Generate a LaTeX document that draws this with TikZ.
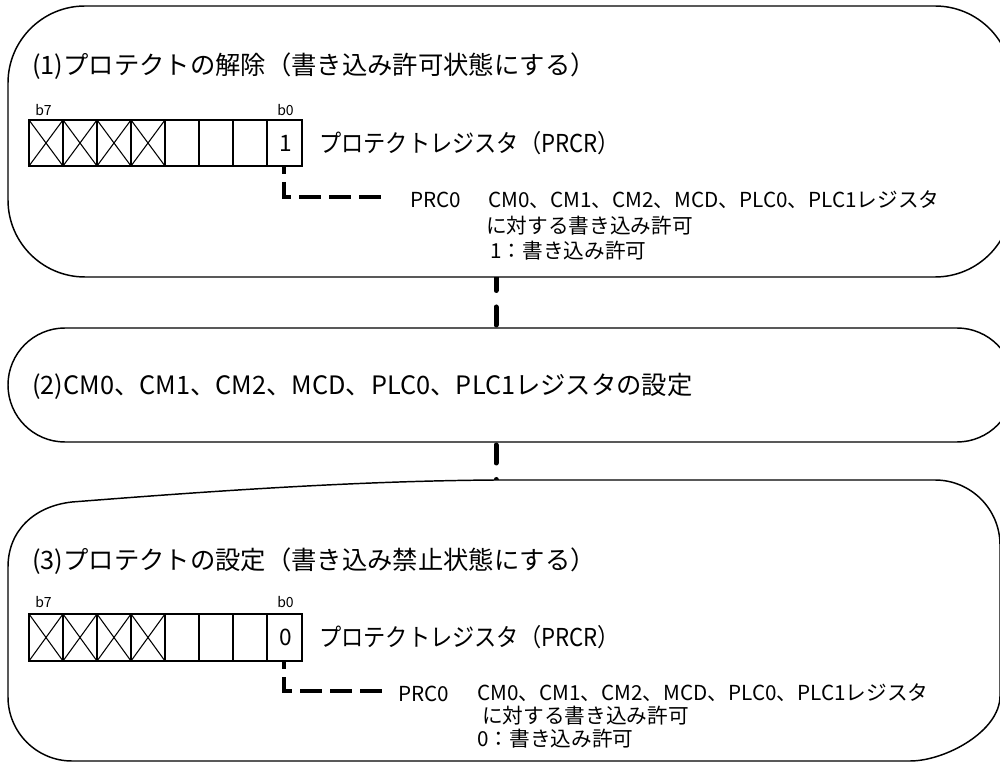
\documentclass[tikz,border=0pt]{standalone}
\usepackage{fontspec}
\setmainfont{Noto Sans CJK JP}
\usepackage{graphicx}
\begin{document}
\begin{tikzpicture}[x=0.75pt,y=-0.75pt,
  box/.style={draw=black,line width=1.1pt,fill=white},
  cellline/.style={draw=black,line width=1.1pt},
  xline/.style={draw=black,line width=0.8pt},
  conn/.style={draw=black,line width=3.75pt,line cap=round,dash pattern=on 13.5pt off 12.375pt,dash phase=3.375pt},
  leader/.style={draw=black,line width=3pt,dash pattern=on 16.5pt off 6pt,dash phase=10.5pt},
  ttl/.style={anchor=west,inner sep=0pt,font=\fontsize{19pt}{22pt}\selectfont},
  lbl/.style={anchor=west,inner sep=0pt,font=\fontsize{18.5pt}{22pt}\selectfont},
  dsc/.style={anchor=west,inner sep=0pt,font=\fontsize{15.5pt}{18pt}\selectfont},
  dig/.style={inner sep=0pt,font=\fontsize{17pt}{19pt}\selectfont},
  bl/.style={inner sep=0pt,font=\fontsize{10.5pt}{12pt}\selectfont}]
\useasboundingbox (0,0) rectangle (1000,762);
\clip (0,0) rectangle (1000,762);
\fill[white] (0,0) rectangle (1000,762);

% connector between steps (drawn first, boxes cover parts of it)
\coordinate (c1) at (496,277);
\coordinate (c3) at (496,480);
\draw[conn] (c1) -- (c3);

% box 1
\draw[box,rounded corners=57.75pt] (8,6) rectangle (1012,277);
% box 2
\draw[box,rounded corners=42.75pt] (8,328) rectangle (1014,442);
% box 3
\draw[box] (496,480) -- (935,480) .. controls (970.9,480) and (1000,509.1) .. (1000,545)
  -- (1000,696) .. controls (1000,731.3) and (945.3,761) .. (910,761)
  -- (72,761) .. controls (36.7,761) and (8,732.3) .. (8,697)
  -- (8,567) .. controls (8,530) and (35,506) .. (72,502)
  .. controls (200,492) and (350,481) .. (496,480) -- cycle;

% ---------- step 1 ----------
\node[ttl] (t1) at (32,66) {(1)プロテクトの解除（書き込み許可状態にする）};
\node[bl] (b7a) at (43.5,110.5) {b7};
\node[bl] (b0a) at (285.5,110.5) {b0};
\draw[cellline] (29,120) rectangle (302,166);
\foreach \i in {1,...,7} \draw[cellline] (29+34*\i,120) -- (29+34*\i,166);
\foreach \i in {0,...,3} {
  \draw[xline] (29+34*\i,120) -- (63+34*\i,166);
  \draw[xline] (63+34*\i,120) -- (29+34*\i,166);
}
\node[dig] (d1) at (285.5,143) {1};
\node[lbl] (l1) at (319,143) {\scalebox{0.9}[1]{プロテクトレジスタ（PRCR）}};
\coordinate (la1) at (284,166);
\coordinate (lb1) at (284,197);
\coordinate (lc1) at (382,197);
\draw[leader] (la1) -- (lb1) -- (lc1);
\node[dsc] (p1) at (410,200) {PRC0};
\node[dsc] (p1a) at (488,200) {CM0、CM1、CM2、MCD、PLC0、PLC1レジスタ};
\node[dsc] (p1b) at (486,226) {に対する書き込み許可};
\node[dsc] (p1c) at (490,251) {1：書き込み許可};

% ---------- step 2 ----------
\node[ttl] (t2) at (32,386) {(2)CM0、CM1、CM2、MCD、PLC0、PLC1レジスタの設定};

% ---------- step 3 ----------
\node[ttl] (t3) at (32,561) {(3)プロテクトの設定（書き込み禁止状態にする）};
\node[bl] (b7b) at (43.5,602) {b7};
\node[bl] (b0b) at (285.5,602) {b0};
\draw[cellline] (29,614) rectangle (302,661);
\foreach \i in {1,...,7} \draw[cellline] (29+34*\i,614) -- (29+34*\i,661);
\foreach \i in {0,...,3} {
  \draw[xline] (29+34*\i,614) -- (63+34*\i,661);
  \draw[xline] (63+34*\i,614) -- (29+34*\i,661);
}
\node[dig] (d3) at (285.5,637.5) {0};
\node[lbl] (l3) at (319,637.5) {\scalebox{0.9}[1]{プロテクトレジスタ（PRCR）}};
\coordinate (la3) at (284,661);
\coordinate (lb3) at (284,691);
\coordinate (lc3) at (382,691);
\draw[leader] (la3) -- (lb3) -- (lc3);
\node[dsc] (p3) at (398,694) {PRC0};
\node[dsc] (p3a) at (477,693) {CM0、CM1、CM2、MCD、PLC0、PLC1レジスタ};
\node[dsc] (p3b) at (482,716) {に対する書き込み許可};
\node[dsc] (p3c) at (477,739) {0：書き込み許可};
\end{tikzpicture}
\end{document}
